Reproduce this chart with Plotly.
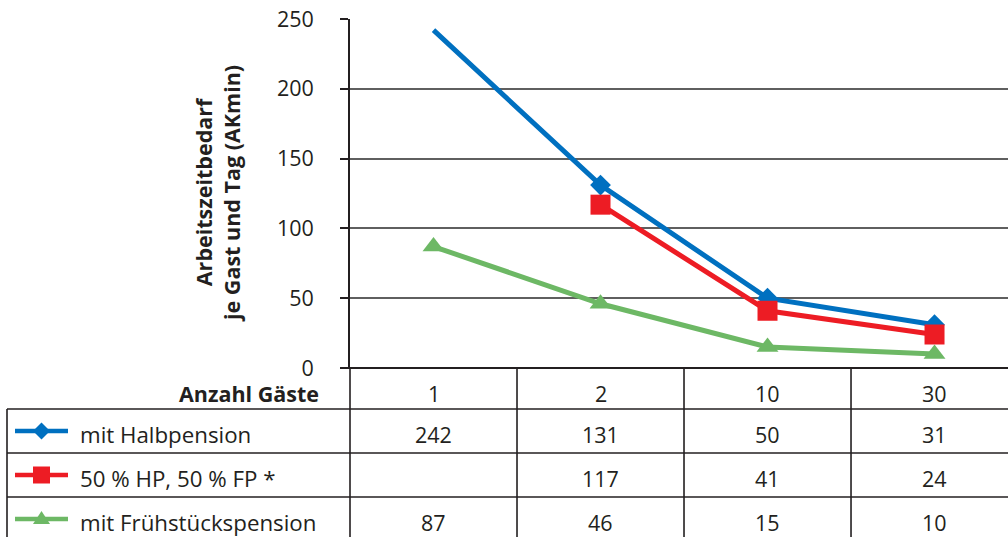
import plotly.graph_objects as go

# Data
categories = ["1", "2", "10", "30"]
halbpension = [242, 131, 50, 31]
mix_hp_fp = [None, 117, 41, 24]
fruehstueck = [87, 46, 15, 10]

series_names = ["mit Halbpension", "50 % HP, 50 % FP *", "mit Frühstückspension"]
y_ticks = [0, 50, 100, 150, 200, 250]
row_label = "Anzahl Gäste"
y_title = "<b>Arbeitszeitbedarf<br>je Gast und Tag (AKmin)</b>"

BLUE = "#0070C0"
RED = "#ED1C24"
GREEN = "#6DB865"
INK = "#231F20"
FONT = "Open Sans"
FS = 21.5       # numbers
FS_TXT = 22.3   # words

W, H = 1008, 537
# plot-area edges in pixels
PL, PR, PT, PB = 350, 1008, 19, 368


def px(x):
    return x / W


def py(y):
    return 1 - y / H


fig = go.Figure()
xs = list(range(len(categories)))

# blue line over all points, diamonds from the second point on
fig.add_trace(go.Scatter(
    x=xs, y=halbpension, mode="lines",
    line=dict(color=BLUE, width=5), showlegend=False))
fig.add_trace(go.Scatter(
    x=xs[1:], y=halbpension[1:], mode="markers",
    marker=dict(symbol="diamond", size=16, color=BLUE, opacity=1,
                line=dict(width=0)),
    cliponaxis=False, showlegend=False))
fig.add_trace(go.Scatter(
    x=xs, y=mix_hp_fp, mode="lines+markers",
    line=dict(color=RED, width=5),
    marker=dict(symbol="square", size=20, color=RED, line=dict(width=0)),
    cliponaxis=False, showlegend=False))
fig.add_trace(go.Scatter(
    x=xs, y=fruehstueck, mode="lines+markers",
    line=dict(color=GREEN, width=5),
    marker=dict(symbol="triangle-up", size=19, color=GREEN, line=dict(width=0)),
    cliponaxis=False, showlegend=False))

shapes = []
annotations = []

# table grid lines
line_style = dict(color=INK, width=1.6)
row_lines = [409, 453, 497]
for yy in row_lines:
    shapes.append(dict(type="line", xref="paper", yref="paper",
                       x0=px(7), x1=1, y0=py(yy), y1=py(yy), line=line_style))
shapes.append(dict(type="line", xref="paper", yref="paper",
                   x0=px(7), x1=px(7), y0=py(409), y1=0, line=line_style))
shapes.append(dict(type="line", xref="paper", yref="paper",
                   x0=px(PL), x1=px(PL), y0=py(PB), y1=0, line=line_style))
for b in [0.5, 1.5, 2.5]:
    shapes.append(dict(type="line", xref="x", yref="paper",
                       x0=b, x1=b, y0=py(PB), y1=0, line=line_style))
# zero line extended to the tick
shapes.append(dict(type="line", xref="paper", yref="paper",
                   x0=px(342), x1=1, y0=py(PB), y1=py(PB),
                   line=dict(color=INK, width=2.2)))

num_font = dict(family=FONT, size=FS, color=INK)
txt_font = dict(family=FONT, size=FS_TXT, color=INK)

# category row
annotations.append(dict(text=f"<b>{row_label}</b>", xref="paper", yref="paper",
                        x=px(321), y=py(393), xanchor="right", yanchor="middle",
                        showarrow=False, font=dict(family=FONT, size=21.5, color=INK)))
for i, c in enumerate(categories):
    annotations.append(dict(text=c, xref="x", yref="paper", x=i, y=py(393),
                            xanchor="center", yanchor="middle", showarrow=False,
                            font=num_font))

# value rows with legend keys
row_centers = [434, 478, 522]
colors = [BLUE, RED, GREEN]
all_series = [halbpension, mix_hp_fp, fruehstueck]
for name, vals, col, yc in zip(series_names, all_series, colors, row_centers):
    key_y = yc - 3
    shapes.append(dict(type="line", xref="paper", yref="paper",
                       x0=px(15), x1=px(68), y0=py(key_y), y1=py(key_y),
                       line=dict(color=col, width=4.5)))
    cx, h = 41.5, 8.5
    if col == BLUE:
        path = (f"M{px(cx - h)},{py(key_y)} L{px(cx)},{py(key_y - h)} "
                f"L{px(cx + h)},{py(key_y)} L{px(cx)},{py(key_y + h)} Z")
    elif col == RED:
        path = (f"M{px(cx - h)},{py(key_y - h)} L{px(cx + h)},{py(key_y - h)} "
                f"L{px(cx + h)},{py(key_y + h)} L{px(cx - h)},{py(key_y + h)} Z")
    else:
        path = (f"M{px(cx - h)},{py(key_y + 5)} L{px(cx + h)},{py(key_y + 5)} "
                f"L{px(cx)},{py(key_y - 8)} Z")
    shapes.append(dict(type="path", xref="paper", yref="paper", path=path,
                       fillcolor=col, line=dict(width=0)))
    annotations.append(dict(text=name, xref="paper", yref="paper",
                            x=px(78), y=py(yc), xanchor="left", yanchor="middle",
                            showarrow=False, font=txt_font))
    for i, v in enumerate(vals):
        if v is None:
            continue
        annotations.append(dict(text=str(v), xref="x", yref="paper", x=i, y=py(yc),
                                xanchor="center", yanchor="middle", showarrow=False,
                                font=num_font))

# y-axis title
annotations.append(dict(text=y_title, xref="paper", yref="paper",
                        x=px(218), y=py(194), xanchor="center", yanchor="middle",
                        textangle=-90, showarrow=False,
                        font=dict(family=FONT, size=21.5, color=INK)))

fig.update_layout(
    template="none",
    width=W, height=H, autosize=False,
    margin=dict(l=0, r=0, t=0, b=0, pad=0),
    paper_bgcolor="white", plot_bgcolor="rgba(0,0,0,0)",
    shapes=shapes, annotations=annotations,
    xaxis=dict(domain=[px(PL), 1], type="linear", range=[-0.5, 3.44],
               showgrid=False, showticklabels=False, zeroline=False,
               showline=False, ticks="", automargin=False),
    yaxis=dict(domain=[py(PB), py(PT)], range=[0, 250], tickvals=y_ticks,
               showgrid=True, gridcolor="#5F5F5F", gridwidth=1.6,
               zeroline=False, showline=True, linecolor=INK, linewidth=1.6,
               ticks="outside", ticklen=8, tickcolor=INK, tickwidth=1.6,
               ticklabelstandoff=22, automargin=False,
               tickfont=dict(family=FONT, size=FS, color=INK)),
)

fig.write_html("out.html")
